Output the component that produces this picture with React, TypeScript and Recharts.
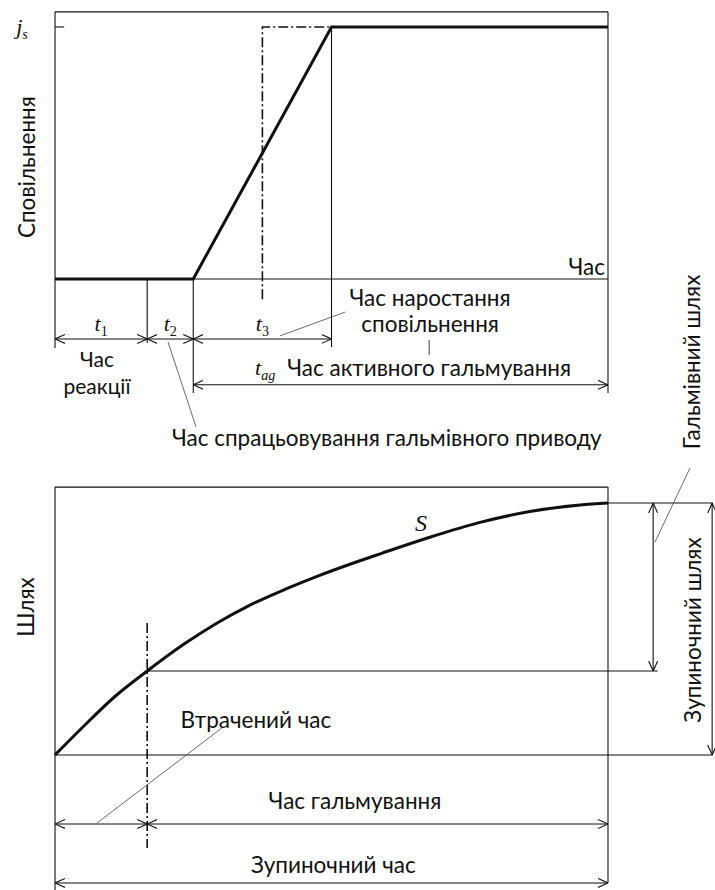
import React from "react";
import { LineChart, Line, XAxis, YAxis, ReferenceLine, ReferenceDot } from "recharts";

// phase durations (time units) and key levels
const phaseNames = ["1", "2", "3"];
const phaseDur = [1.0, 0.5, 1.5];
const T_END = 6.0;
const JS = 1;

// deceleration j(t)
const decelTime = [0, 1.5, 3.0, 6.0];
const decelValue = [0, 0, 1, 1];

// idealised (step) deceleration, dash-dot
const idealTime = [2.25, 2.25, 3.0];
const idealValue = [-0.08, 1, 1];

// braking path S(t)
const pathTime = [0, 0.3, 0.65, 1.0, 1.4, 1.75, 2.1, 2.5, 2.85, 3.2, 3.55, 4.05, 4.6, 5.15, 5.7, 6.0];
const pathValue = [0, 0.11, 0.232, 0.333, 0.44, 0.522, 0.592, 0.658, 0.71, 0.757, 0.801, 0.862, 0.922, 0.966, 0.992, 1.0];
const LOST_TIME = 1.0;
const S_LOST = 0.333;

const decelData = decelTime.map((t, i) => ({ t, v: decelValue[i] }));
const idealData = idealTime.map((t, i) => ({ t, v: idealValue[i] }));
const pathData = pathTime.map((t, i) => ({ t, v: pathValue[i] }));

const phaseEnds = phaseDur.map((_, i) => phaseDur.slice(0, i + 1).reduce((a, b) => a + b, 0));
const phaseStarts = phaseEnds.map((e, i) => e - phaseDur[i]);

const FONT = "Lato, 'Open Sans', sans-serif";
const SERIF = "'Liberation Serif', 'DejaVu Serif', serif";
const INK = "#111";
const FS = 22.5;

const X_DOMAIN: [number, number] = [-0.597, 7.161];
const TOP_DOMAIN: [number, number] = [-0.758, 1.107];
const BOT_DOMAIN: [number, number] = [-0.536, 1.25];

const seg = (key: string, x1: number, y1: number, x2: number, y2: number, w = 1.1, color = INK, dash?: string) => (
  <ReferenceLine
    key={key}
    segment={[{ x: x1, y: y1 }, { x: x2, y: y2 }]}
    stroke={color}
    strokeWidth={w}
    strokeDasharray={dash}
  />
);

const arrowLine = (p: any) => (
  <line
    x1={p.x1}
    y1={p.y1}
    x2={p.x2}
    y2={p.y2}
    stroke={INK}
    strokeWidth={1.1}
    markerStart="url(#chev)"
    markerEnd="url(#chev)"
  />
);

const dim = (key: string, x1: number, y1: number, x2: number, y2: number) => (
  <ReferenceLine key={key} segment={[{ x: x1, y: y1 }, { x: x2, y: y2 }]} shape={arrowLine} />
);

const note = (key: string, x: number, y: number, draw: (cx: number, cy: number) => React.ReactNode) => (
  <ReferenceDot key={key} x={x} y={y} r={0} shape={(p: any) => <g>{draw(p.cx, p.cy)}</g>} />
);

const label = (key: string, x: number, y: number, text: string, rotate = false, size = FS) =>
  note(key, x, y, (cx, cy) => (
    <text
      x={cx}
      y={cy}
      textAnchor="middle"
      dominantBaseline="central"
      fontFamily={FONT}
      fontSize={size}
      fill={INK}
      transform={rotate ? `rotate(-90 ${cx} ${cy})` : undefined}
    >
      {text}
    </text>
  ));

const sym = (key: string, x: number, y: number, base: string, sub?: string, subItalic = false, size = 22) =>
  note(key, x, y, (cx, cy) => (
    <text x={cx} y={cy} textAnchor="middle" fontFamily={SERIF} fontSize={size} fontStyle="italic" fill={INK}>
      {base}
      {sub && (
        <tspan fontSize={size * 0.64} dy={5} fontStyle={subItalic ? "italic" : "normal"}>
          {sub}
        </tspan>
      )}
    </text>
  ));

export default function App() {
  return (
    <div style={{ position: "absolute", left: 0, top: 0, width: 715, height: 890, background: "#fff" }}>
      <svg width={0} height={0} style={{ position: "absolute" }}>
        <defs>
          <marker
            id="chev"
            viewBox="0 0 10 10"
            refX={10}
            refY={5}
            markerWidth={10}
            markerHeight={10}
            markerUnits="userSpaceOnUse"
            orient="auto-start-reverse"
          >
            <path d="M0,0.5 L10,5 L0,9.5" fill="none" stroke={INK} strokeWidth={1.1} />
          </marker>
        </defs>
      </svg>

      {/* Deceleration vs time */}
      <div style={{ position: "absolute", left: 0, top: 0 }}>
        <LineChart width={715} height={470} margin={{ top: 0, right: 0, bottom: 0, left: 0 }}>
          <XAxis dataKey="t" type="number" domain={X_DOMAIN} allowDataOverflow hide />
          <YAxis type="number" domain={TOP_DOMAIN} allowDataOverflow hide />

          {seg("frameTop", 0, 1.06, T_END, 1.06)}
          {seg("base", 0, 0, T_END, 0)}
          {seg("frameL", 0, 1.06, 0, -0.274)}
          {seg("frameR", T_END, 1.06, T_END, -0.452)}
          {seg("jsTick", 0, JS, 0.1, JS)}
          {seg("v1", phaseEnds[0], 0, phaseEnds[0], -0.254)}
          {seg("v2", phaseEnds[1], 0, phaseEnds[1], -0.452)}
          {seg("v3", phaseEnds[2], JS, phaseEnds[2], -0.27)}

          {phaseStarts.map((s, i) => dim(`ph${i}`, s, -0.238, phaseEnds[i], -0.238))}
          {dim("tag", phaseEnds[1], -0.42, T_END, -0.42)}

          {seg("lead3", 2.44, -0.226, 3.15, -0.131, 0.8, "#444")}
          {seg("leadMid", 4.06, -0.242, 4.06, -0.302, 1, "#444")}
          {seg("lead2", 1.226, -0.25, 1.53, -0.587, 0.8, "#444")}

          <Line
            data={idealData}
            dataKey="v"
            type="linear"
            stroke={INK}
            strokeWidth={1.6}
            strokeDasharray="10 3 2 3"
            dot={false}
            activeDot={false}
            isAnimationActive={false}
          />
          <Line
            data={decelData}
            dataKey="v"
            type="linear"
            stroke={INK}
            strokeWidth={3}
            dot={false}
            activeDot={false}
            isAnimationActive={false}
          />

          {sym("js", -0.358, 0.972, "j", "s", true)}
          {label("yTop", -0.304, 0.444, "Сповільнення", true)}
          {phaseNames.map((n, i) => sym(`t${n}`, (phaseStarts[i] + phaseEnds[i]) / 2, -0.205, "t", n))}
          {sym("tag", 2.28, -0.381, "t", "ag", true)}
          {label("active", 4.06, -0.353, "Час активного гальмування")}
          {label("react1", 0.456, -0.317, "Час", false, 21)}
          {label("react2", 0.456, -0.421, "реакції", false, 21)}
          {label("rise1", 4.07, -0.075, "Час наростання")}
          {label("rise2", 4.07, -0.175, "сповільнення")}
          {label("xTop", 5.77, 0.048, "Час")}
          {label("drive", 3.6, -0.631, "Час спрацьовування гальмівного приводу")}
          {label("brakePath", 6.91, -0.329, "Гальмівний шлях", true)}
        </LineChart>
      </div>

      {/* Path vs time */}
      <div style={{ position: "absolute", left: 0, top: 440 }}>
        <LineChart width={715} height={450} margin={{ top: 0, right: 0, bottom: 0, left: 0 }}>
          <XAxis dataKey="t" type="number" domain={X_DOMAIN} allowDataOverflow hide />
          <YAxis type="number" domain={BOT_DOMAIN} allowDataOverflow hide />

          {seg("frameTop", 0, 1.063, T_END, 1.063)}
          {seg("base", 0, 0, 7.14, 0)}
          {seg("frameL", 0, 1.063, 0, -0.536)}
          {seg("frameR", T_END, 1.063, T_END, -0.508)}
          {seg("topExt", T_END, 1, 7.14, 1)}
          {seg("lostLevel", LOST_TIME, S_LOST, 6.54, S_LOST)}
          {seg("lostMark", LOST_TIME, 0.524, LOST_TIME, -0.369, 1.6, INK, "10 3 2 3")}

          {dim("brakeS", 6.49, S_LOST, 6.49, 1)}
          {dim("stopS", 7.13, 0, 7.13, 1)}
          {dim("lostT", 0, -0.274, LOST_TIME, -0.274)}
          {dim("brakeT", LOST_TIME, -0.274, T_END, -0.274)}
          {dim("stopT", 0, -0.508, T_END, -0.508)}

          {seg("leadLost", 1.81, 0.107, 0.456, -0.27, 0.8, "#444")}
          {seg("leadBrake", 6.89, 1.139, 6.51, 0.845, 0.8, "#444")}

          <Line
            data={pathData}
            dataKey="v"
            type="monotoneX"
            stroke={INK}
            strokeWidth={3}
            dot={false}
            activeDot={false}
            isAnimationActive={false}
          />

          {label("yBot", -0.325, 0.587, "Шлях", true)}
          {sym("S", 3.97, 0.89, "S", undefined, false, 24)}
          {label("lost", 2.18, 0.139, "Втрачений час")}
          {label("brakeTime", 3.255, -0.179, "Час гальмування")}
          {label("stopTime", 3.02, -0.433, "Зупиночний час")}
          {label("stopPath", 6.92, 0.496, "Зупиночний шлях", true)}
        </LineChart>
      </div>
    </div>
  );
}
